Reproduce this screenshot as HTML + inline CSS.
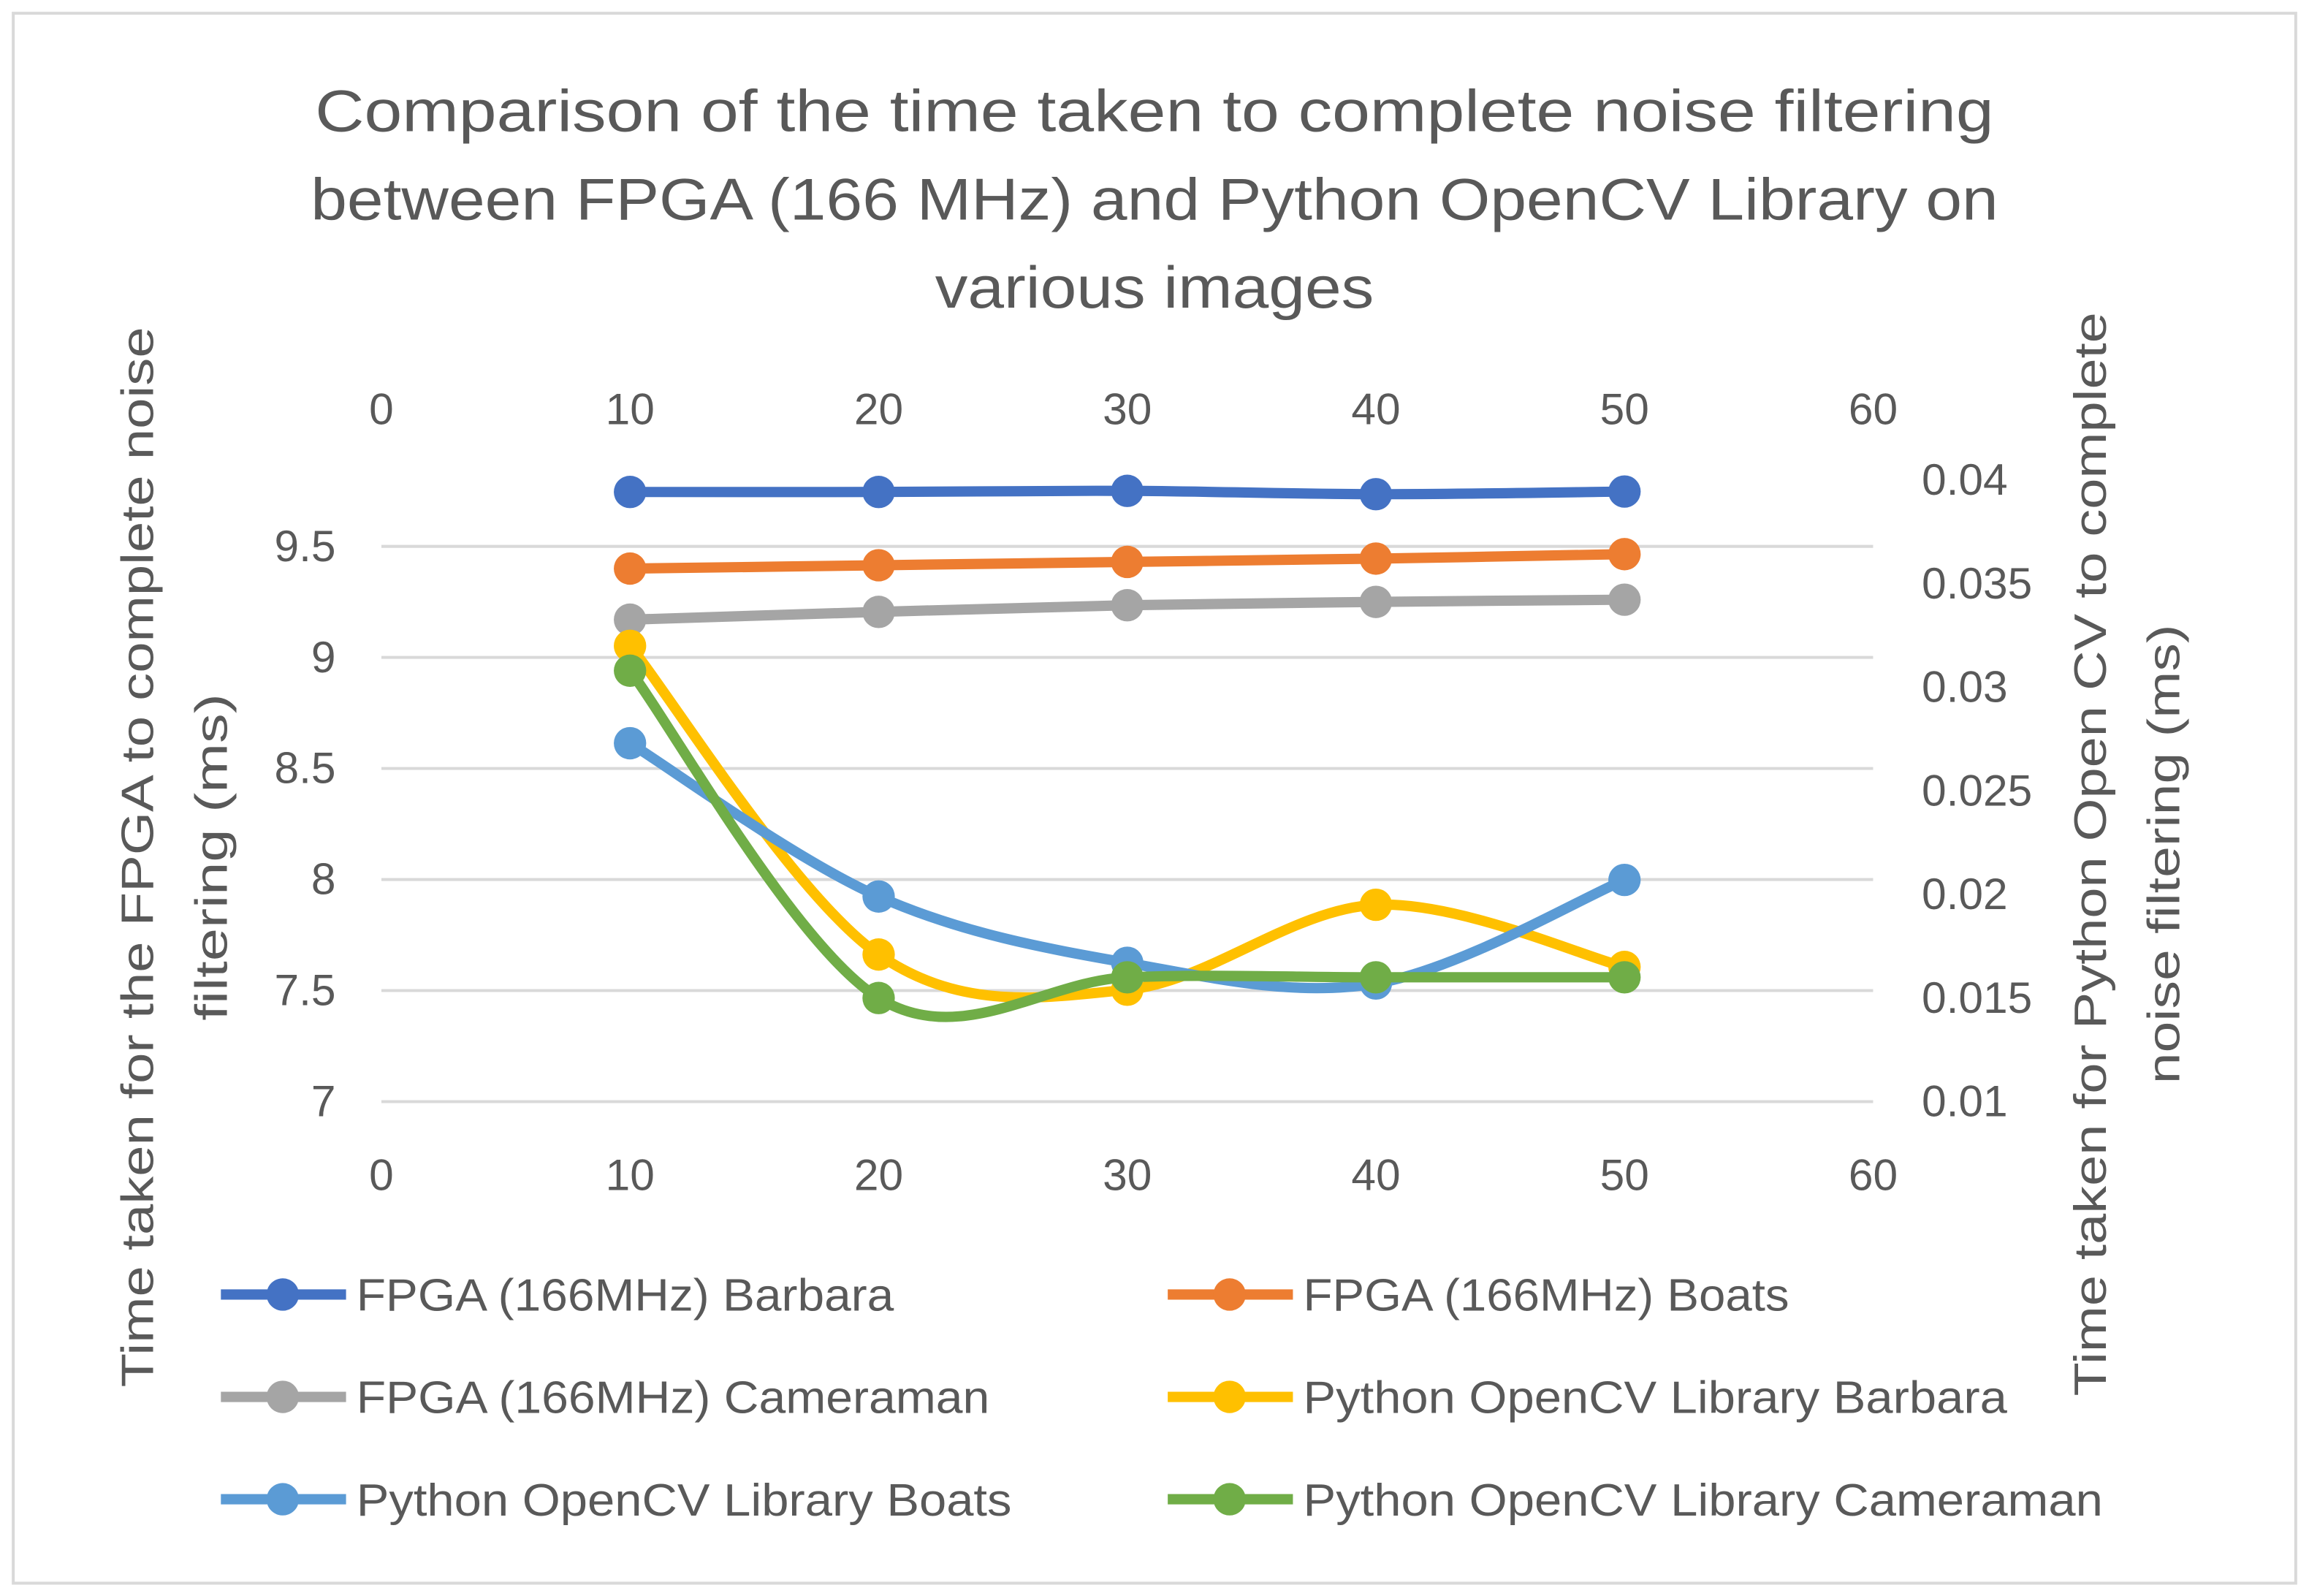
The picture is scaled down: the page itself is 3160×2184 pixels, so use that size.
<!DOCTYPE html>
<html><head><meta charset="utf-8">
<style>
html,body{margin:0;padding:0;background:#fff;}
svg{display:block;}
text{font-family:"Liberation Sans",sans-serif;fill:#595959;}
</style></head>
<body>
<svg id="chart" width="3160" height="2184" viewBox="0 0 1568 1083.7" xmlns="http://www.w3.org/2000/svg">
<rect x="9" y="9" width="1550" height="1066" fill="#fff" stroke="#D9D9D9" stroke-width="2"/>
<g font-size="40" text-anchor="middle">
<text x="784" y="89" textLength="1140" lengthAdjust="spacingAndGlyphs">Comparison of the time taken to complete noise filtering</text>
<text x="784" y="149" textLength="1146" lengthAdjust="spacingAndGlyphs">between FPGA (166 MHz) and Python OpenCV Library on</text>
<text x="784" y="209" textLength="298" lengthAdjust="spacingAndGlyphs">various images</text>
</g>
<g id="grid"></g>
<g id="axes"></g>
<g id="series"></g>
<text font-size="31" text-anchor="middle" transform="translate(104,582) rotate(-90)" textLength="720" lengthAdjust="spacingAndGlyphs">Time taken for the FPGA to complete noise</text>
<text font-size="31" text-anchor="middle" transform="translate(154,582) rotate(-90)" textLength="222" lengthAdjust="spacingAndGlyphs">filtering (ms)</text>
<text font-size="31" text-anchor="middle" transform="translate(1430,580) rotate(-90)" textLength="736" lengthAdjust="spacingAndGlyphs">Time taken for Python Open CV to complete</text>
<text font-size="31" text-anchor="middle" transform="translate(1480,580) rotate(-90)" textLength="312" lengthAdjust="spacingAndGlyphs">noise filtering (ms)</text>
<g id="legend"></g>
</svg>
<script>
const xValues = [10, 20, 30, 40, 50];
const fpgaBarbara = [9.745, 9.745, 9.75, 9.735, 9.747];
const fpgaBoats = [9.40, 9.415, 9.43, 9.445, 9.465];
const fpgaCameraman = [9.17, 9.205, 9.235, 9.25, 9.26];
const pyBarbara = [0.0320, 0.0171, 0.0154, 0.0195, 0.0165];
const pyBoats = [0.0273, 0.0199, 0.0167, 0.0157, 0.0207];
const pyCameraman = [0.0308, 0.0150, 0.0160, 0.0160, 0.0160];
const xTicks = [0, 10, 20, 30, 40, 50, 60];
const leftTicks = [7, 7.5, 8, 8.5, 9, 9.5];
const rightTicks = ["0.01", "0.015", "0.02", "0.025", "0.03", "0.035", "0.04"];
const seriesNames = ["FPGA (166MHz) Barbara","FPGA (166MHz) Boats","FPGA (166MHz) Cameraman","Python OpenCV Library Barbara","Python OpenCV Library Boats","Python OpenCV Library Cameraman"];

const NS = "http://www.w3.org/2000/svg";
const X0 = 259, X1 = 1272;
function xScale(v){ return X0 + (v - 0) / 60 * (X1 - X0); }
function yLeft(v){ return 748 - (v - 7) / 2.5 * (748 - 371); }
function yRight(v){ return 748 - (v - 0.01) / 0.03 * (748 - 326); }
function mk(tag, attrs, parent){ const e = document.createElementNS(NS, tag); for (const k in attrs) e.setAttribute(k, attrs[k]); parent.appendChild(e); return e; }

const grid = document.getElementById('grid');
leftTicks.forEach(t => {
  const l = mk('line', {x1: X0, x2: X1, y1: yLeft(t), y2: yLeft(t), stroke: '#D9D9D9', 'stroke-width': 2}, grid);
  
  
});
const axes = document.getElementById('axes');
xTicks.forEach(t => {
  const a = mk('text', {x: xScale(t), y: 288, 'font-size': 30, 'text-anchor': 'middle'}, axes);
  a.textContent = t;
  
  
  const b = mk('text', {x: xScale(t), y: 808, 'font-size': 30, 'text-anchor': 'middle'}, axes);
  b.textContent = t;
  
  
});
leftTicks.forEach(t => {
  const a = mk('text', {x: 228, y: yLeft(t) + 10, 'font-size': 30, 'text-anchor': 'end'}, axes);
  a.textContent = t;
  
  
});
rightTicks.forEach(t => {
  const a = mk('text', {x: 1305, y: yRight(parseFloat(t)) + 10, 'font-size': 30, 'text-anchor': 'start'}, axes);
  a.textContent = t;
  
  
});

function smoothPath(pts){
  let d = 'M' + pts[0][0] + ',' + pts[0][1];
  for (let i = 0; i < pts.length - 1; i++){
    const p0 = pts[Math.max(0, i - 1)], p1 = pts[i], p2 = pts[i + 1], p3 = pts[Math.min(pts.length - 1, i + 2)];
    const c1x = p1[0] + (p2[0] - p0[0]) / 6, c1y = p1[1] + (p2[1] - p0[1]) / 6;
    const c2x = p2[0] - (p3[0] - p1[0]) / 6, c2y = p2[1] - (p3[1] - p1[1]) / 6;
    d += ' C' + c1x + ',' + c1y + ' ' + c2x + ',' + c2y + ' ' + p2[0] + ',' + p2[1];
  }
  return d;
}
const colors = ['#4472C4','#ED7D31','#A5A5A5','#FFC000','#5B9BD5','#70AD47'];
const allData = [[fpgaBarbara, yLeft],[fpgaBoats, yLeft],[fpgaCameraman, yLeft],[pyBarbara, yRight],[pyBoats, yRight],[pyCameraman, yRight]];
const seriesG = document.getElementById('series');
allData.forEach((s, i) => {
  const vals = s[0], ys = s[1];
  const pts = xValues.map((x, j) => [xScale(x), ys(vals[j])]);
  const g = mk('g', {}, seriesG);
  
  
  const p = mk('path', {d: smoothPath(pts), fill: 'none', stroke: colors[i], 'stroke-width': 7, 'stroke-linecap': 'round'}, g);
  
  
  pts.forEach(pt => {
    const c = mk('circle', {cx: pt[0], cy: pt[1], r: 11, fill: colors[i]}, g);
    
    
  });
});

const legend = document.getElementById('legend');
const legW = [365, 330, 430, 478, 445, 543];
seriesNames.forEach((n, i) => {
  const col = i % 2, row = Math.floor(i / 2);
  const lx = col ? 793 : 150, ly = 879 + row * 69.5;
  const g = mk('g', {}, legend);
  
  
  mk('line', {x1: lx, x2: lx + 85, y1: ly, y2: ly, stroke: colors[i], 'stroke-width': 7}, g);
  mk('circle', {cx: lx + 42, cy: ly, r: 11, fill: colors[i]}, g);
  const t = mk('text', {x: lx + 92, y: ly + 11, 'font-size': 31, textLength: legW[i], lengthAdjust: 'spacingAndGlyphs'}, g);
  t.textContent = n;
});
</script>
</body></html>
